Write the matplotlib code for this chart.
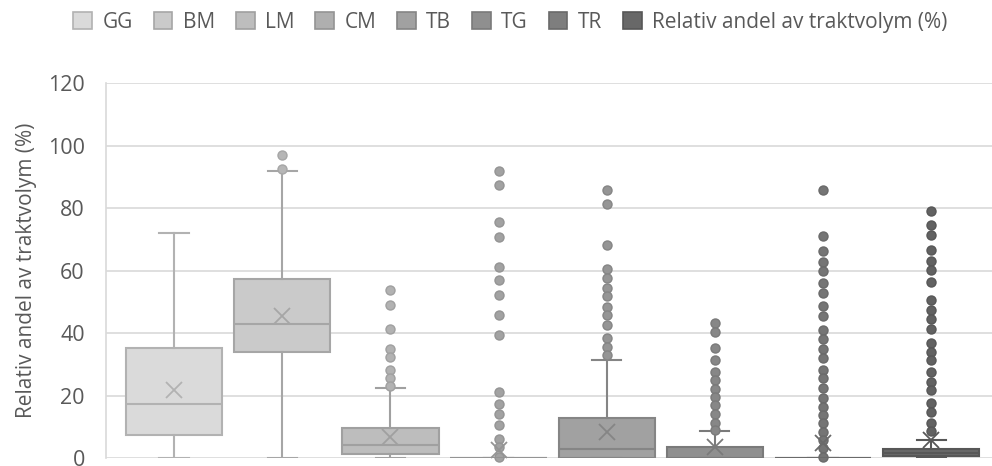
import matplotlib
matplotlib.use("Agg")
import matplotlib.pyplot as plt
from matplotlib.patches import Patch

plt.rcParams["font.family"] = ["Open Sans", "DejaVu Sans"]

# series names (legend order)
series = ["GG", "BM", "LM", "CM", "TB", "TG", "TR", "Relativ andel av traktvolym (%)"]

# box statistics (%)
whislo = [0.0, 0.0, 0.0, 0.0, 0.0, 0.0, 0.0, 0.0]
q1 = [7.3, 33.9, 1.3, 0.0, 0.0, 0.0, 0.0, 0.7]
med = [17.4, 43.0, 4.1, 0.0, 2.9, 0.0, 0.0, 1.6]
q3 = [35.2, 57.3, 9.8, 0.0, 12.8, 3.5, 0.0, 2.9]
whishi = [72.1, 91.9, 22.4, 0.0, 31.6, 8.6, 0.0, 5.7]
means = [21.9, 45.5, 6.9, 2.7, 8.5, 3.7, 4.8, 5.7]

fliers_gg = []
fliers_bm = [96.9, 92.7]
fliers_lm = [53.8, 49.2, 41.3, 35.1, 32.4, 28.3, 25.6, 23.1]
fliers_cm = [91.8, 87.5, 75.5, 70.8, 61.3, 57.0, 52.4, 45.8, 39.3,
             21.2, 17.5, 14.3, 10.8, 6.1, 3.5, 0.3]
fliers_tb = [85.9, 81.4, 68.2, 60.7, 57.6, 54.4, 51.8, 48.4, 45.7,
             42.6, 38.6, 35.5, 33.0]
fliers_tg = [43.4, 40.5, 35.4, 31.5, 27.7, 25.1, 22.2, 19.5, 16.9,
             14.2, 11.4, 8.9]
fliers_tr = [86.0, 71.0, 66.2, 62.7, 59.9, 56.2, 53.0, 48.6, 45.4, 41.0,
             38.1, 35.1, 32.0, 28.4, 25.6, 22.6, 19.2, 16.5, 13.9, 11.2,
             8.5, 5.9, 3.2, 0.3]
fliers_rel = [79.1, 74.7, 71.3, 66.7, 63.0, 60.1, 56.5, 50.7, 47.4, 44.5,
              41.5, 37.0, 34.1, 31.4, 27.7, 24.5, 21.9, 17.6, 14.9, 11.4, 8.7]
fliers = [fliers_gg, fliers_bm, fliers_lm, fliers_cm, fliers_tb,
          fliers_tg, fliers_tr, fliers_rel]

fills = ["#dadada", "#cacaca", "#bdbdbd", "#afafaf", "#a1a1a1", "#8f8f8f", "#7e7e7e", "#686868"]
edges = ["#b2b2b2", "#a6a6a6", "#a0a0a0", "#949494", "#858585", "#7a7a7a", "#6a6a6a", "#575757"]
dots = ["#c0c0c0", "#b6b6b6", "#b2b2b2", "#a2a2a2", "#959595", "#878787", "#757575", "#626262"]

W, H = 992, 466
fig = plt.figure(figsize=(W / 100, H / 100), dpi=100)
ax = fig.add_axes([105.7 / W, (H - 458.3) / H, (W - 105.7) / W + 0.01, 375.0 / H])

for i in range(len(series)):
    st = [dict(whislo=whislo[i], q1=q1[i], med=med[i], q3=q3[i],
               whishi=whishi[i], mean=means[i], fliers=fliers[i])]
    ax.bxp(st, positions=[i], widths=0.89, patch_artist=True, showmeans=True,
           manage_ticks=False,
           boxprops=dict(facecolor=fills[i], edgecolor=edges[i], linewidth=1.5),
           medianprops=dict(color=edges[i], linewidth=1.5),
           whiskerprops=dict(color=edges[i], linewidth=1.5),
           capprops=dict(color=edges[i], linewidth=1.5),
           capwidths=0.27,
           meanprops=dict(marker="x", markersize=11, markeredgewidth=1.3,
                          markeredgecolor=edges[i], markerfacecolor="none"),
           flierprops=dict(marker="o", markersize=6.5, markerfacecolor=dots[i],
                           markeredgecolor=edges[i], markeredgewidth=1.0,
                           clip_on=False))

ax.set_xlim(-0.632, 7.574 + 0.08)
ax.set_ylim(0, 120)
ax.set_yticks(range(0, 121, 20))
ax.set_xticks([])
ax.yaxis.grid(True, color="#d9d9d9", linewidth=1.2)
ax.set_axisbelow(True)
for s in ["top", "right", "bottom"]:
    ax.spines[s].set_visible(False)
ax.spines["left"].set_color("#d9d9d9")
ax.spines["left"].set_linewidth(1.2)
ax.tick_params(axis="y", length=0, pad=15, labelsize=15.5, labelcolor="#595959")
ax.set_ylabel("Relativ andel av traktvolym (%)", fontsize=15, color="#595959", labelpad=8)

handles = [Patch(facecolor=fills[i], edgecolor=edges[i], linewidth=1.2) for i in range(len(series))]
fig.legend(handles, series, loc="center", bbox_to_anchor=(0.5146, 0.952), ncol=8,
           frameon=False, fontsize=15, labelcolor="#595959",
           handlelength=0.9, handleheight=0.9, handletextpad=0.5, columnspacing=1.0)

fig.savefig("out.png", dpi=100)
